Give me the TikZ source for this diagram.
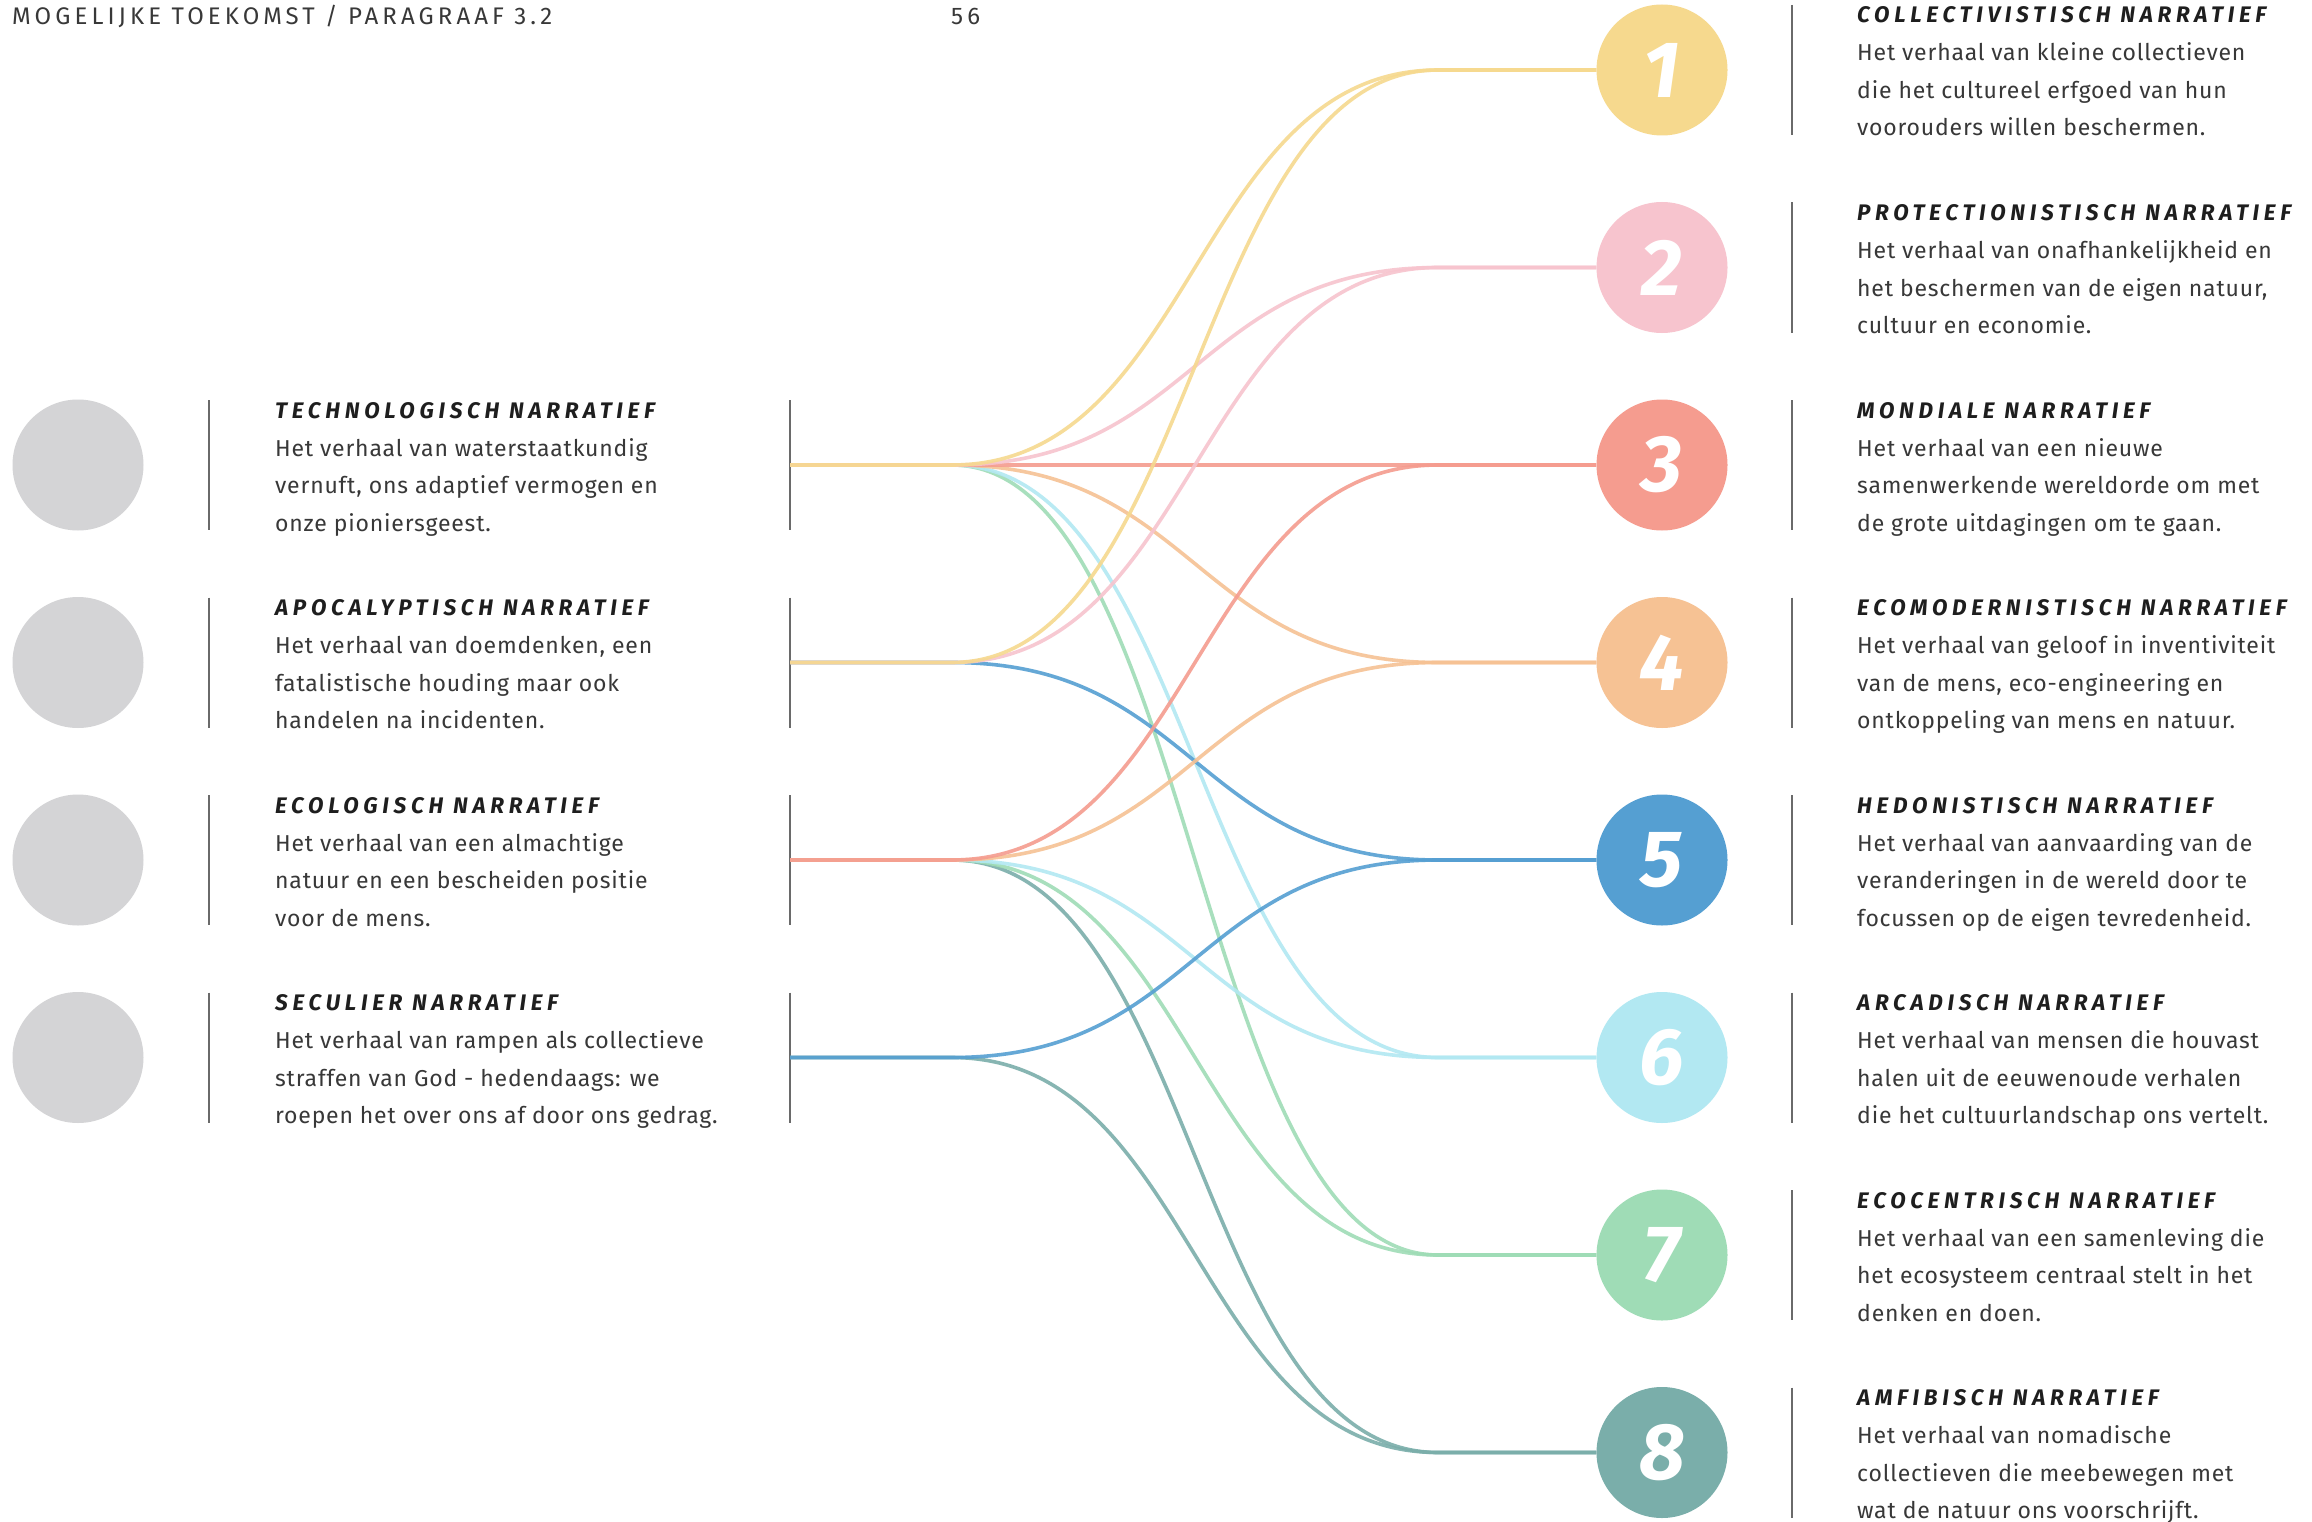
\documentclass[tikz,border=0pt]{standalone}
\usepackage{fontspec}
\setmainfont{Fira Sans}
\newfontfamily\titlefont[LetterSpace=21]{Fira Sans}
\newfontfamily\bodyfont[LetterSpace=3.5]{Fira Sans}
\newfontfamily\headfont[LetterSpace=17]{Fira Sans}
\definecolor{cY}{HTML}{F6D98E}
\definecolor{cP}{HTML}{F7C4CE}
\definecolor{cR}{HTML}{F59C8F}
\definecolor{cO}{HTML}{F6C294}
\definecolor{cB}{HTML}{559FD2}
\definecolor{cC}{HTML}{B2E8F2}
\definecolor{cG}{HTML}{9FDCB6}
\definecolor{cT}{HTML}{7AAEAA}
\definecolor{cGrey}{HTML}{D4D4D6}
\definecolor{rule}{HTML}{6A6A6A}
\definecolor{txt}{HTML}{383838}
\definecolor{ttl}{HTML}{1E1E1E}
\tikzset{
  ttlstyle/.style={anchor=base west, inner sep=0pt, text=ttl, font=\titlefont\fontsize{22.5}{24}\selectfont\bfseries\itshape},
  bodystyle/.style={anchor=base west, inner sep=0pt, text=txt, font=\bodyfont\fontsize{23}{26}\selectfont},
  greydot/.style={circle, fill=cGrey, minimum size=131pt, inner sep=0pt},
  numdot/.style={circle, minimum size=131pt, inner sep=0pt, text=white, font=\fontsize{80}{80}\selectfont\bfseries\itshape},
  vrule/.style={draw=rule, line width=1.4pt},
  conn/.style={line width=3.6pt, draw opacity=0.9},
  headstyle/.style={anchor=base west, inner sep=0pt, text=txt, font=\headfont\fontsize{24}{26}\selectfont},
}
\newcommand\narrblock[7]{%
  \node[ttlstyle] (#1t) at (#2,#3-47) {#4};
  \node[bodystyle] (#1a) at (#2,#3-9) {#5};
  \node[bodystyle] (#1b) at (#2,#3+28.5) {#6};
  \node[bodystyle] (#1c) at (#2,#3+66) {#7};
}
\newcommand\conn[3]{% color, left coord, right node index
  \draw[conn, draw=#1] (#2) -- ++(162,0) .. controls +(243,0) and +(-243,0) .. (E#3) -- (n#3.west);
}
\begin{document}
\begin{tikzpicture}[x=1pt,y=-1pt]
\useasboundingbox (0,0) rectangle (2312,1522);
\fill[white] (0,0) rectangle (2312,1522);

% header
\node[headstyle] (hdr) at (12,25) {MOGELIJKE TOEKOMST / PARAGRAAF 3.2};
\node[headstyle] (page) at (951,25) {56};

% rows
\foreach \i/\y in {1/70,2/267.5,3/465,4/662.5,5/860,6/1057.5,7/1255,8/1452.5}{
  \coordinate (E\i) at (1438,\y);
}

% left side
\foreach \i/\y in {1/465,2/662.5,3/860,4/1057.5}{
  \node[greydot] (g\i) at (78,\y) {};
  \draw[vrule] (209,\y-65) -- (209,\y+65);
  \coordinate (L\i) at (790,\y);
  \draw[vrule] (790,\y-65) -- (790,\y+65);
}

% right side circles
\node[numdot, fill=cY] (n1) at (1662,70) {1};
\node[numdot, fill=cP] (n2) at (1662,267.5) {2};
\node[numdot, fill=cR] (n3) at (1662,465) {3};
\node[numdot, fill=cO] (n4) at (1662,662.5) {4};
\node[numdot, fill=cB] (n5) at (1662,860) {5};
\node[numdot, fill=cC] (n6) at (1662,1057.5) {6};
\node[numdot, fill=cG] (n7) at (1662,1255) {7};
\node[numdot, fill=cT] (n8) at (1662,1452.5) {8};
\foreach \y in {70,267.5,465,662.5,860,1057.5,1255,1452.5}{
  \draw[vrule] (1792,\y-65) -- (1792,\y+65);
}

% connectors
\conn{cT}{L4}{8}
\conn{cT}{L3}{8}
\conn{cG}{L3}{7}
\conn{cG}{L1}{7}
\conn{cC}{L3}{6}
\conn{cC}{L1}{6}
\conn{cB}{L4}{5}
\conn{cB}{L2}{5}
\conn{cO}{L3}{4}
\conn{cO}{L1}{4}
\conn{cR}{L3}{3}
\conn{cR}{L1}{3}
\conn{cP}{L2}{2}
\conn{cP}{L1}{2}
\conn{cY}{L2}{1}
\conn{cY}{L1}{1}

% left texts
\narrblock{lt1}{275}{465}{TECHNOLOGISCH NARRATIEF}{Het verhaal van waterstaatkundig}{vernuft, ons adaptief vermogen en}{onze pioniersgeest.}
\narrblock{lt2}{275}{662.5}{APOCALYPTISCH NARRATIEF}{Het verhaal van doemdenken, een}{fatalistische houding maar ook}{handelen na incidenten.}
\narrblock{lt3}{275}{860}{ECOLOGISCH NARRATIEF}{Het verhaal van een almachtige}{natuur en een bescheiden positie}{voor de mens.}
\narrblock{lt4}{275}{1057.5}{SECULIER NARRATIEF}{Het verhaal van rampen als collectieve}{straffen van God - hedendaags: we}{roepen het over ons af door ons gedrag.}

% right texts
\narrblock{rt1}{1857}{70}{COLLECTIVISTISCH NARRATIEF}{Het verhaal van kleine collectieven}{die het cultureel erfgoed van hun}{voorouders willen beschermen.}
\narrblock{rt2}{1857}{267.5}{PROTECTIONISTISCH NARRATIEF}{Het verhaal van onafhankelijkheid en}{het beschermen van de eigen natuur,}{cultuur en economie.}
\narrblock{rt3}{1857}{465}{MONDIALE NARRATIEF}{Het verhaal van een nieuwe}{samenwerkende wereldorde om met}{de grote uitdagingen om te gaan.}
\narrblock{rt4}{1857}{662.5}{ECOMODERNISTISCH NARRATIEF}{Het verhaal van geloof in inventiviteit}{van de mens, eco-engineering en}{ontkoppeling van mens en natuur.}
\narrblock{rt5}{1857}{860}{HEDONISTISCH NARRATIEF}{Het verhaal van aanvaarding van de}{veranderingen in de wereld door te}{focussen op de eigen tevredenheid.}
\narrblock{rt6}{1857}{1057.5}{ARCADISCH NARRATIEF}{Het verhaal van mensen die houvast}{halen uit de eeuwenoude verhalen}{die het cultuurlandschap ons vertelt.}
\narrblock{rt7}{1857}{1255}{ECOCENTRISCH NARRATIEF}{Het verhaal van een samenleving die}{het ecosysteem centraal stelt in het}{denken en doen.}
\narrblock{rt8}{1857}{1452.5}{AMFIBISCH NARRATIEF}{Het verhaal van nomadische}{collectieven die meebewegen met}{wat de natuur ons voorschrijft.}
\end{tikzpicture}
\end{document}
